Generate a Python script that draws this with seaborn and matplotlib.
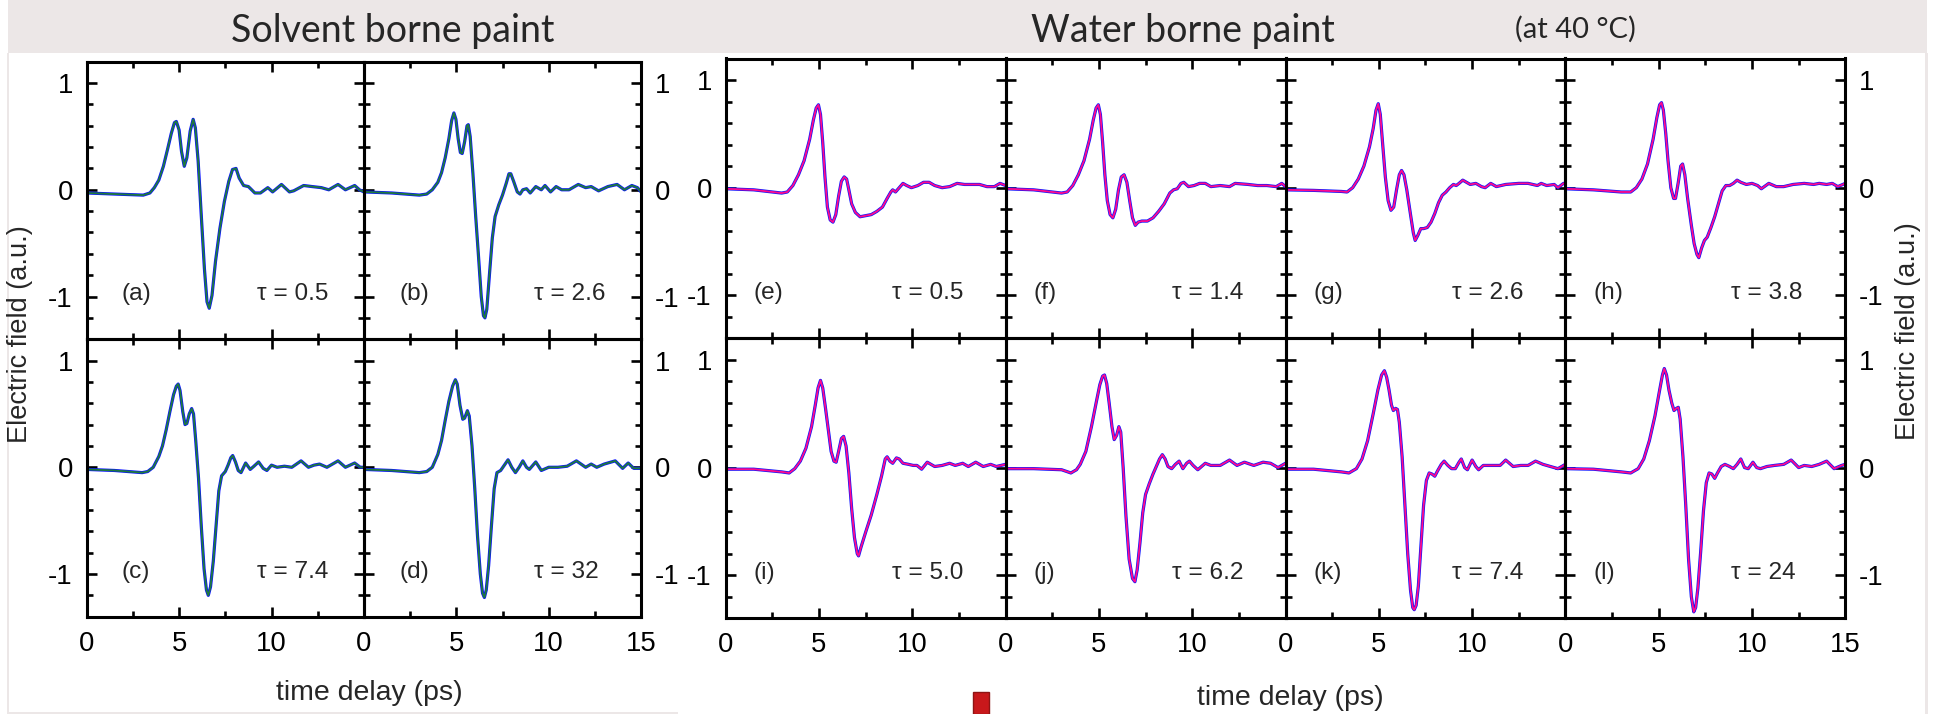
import numpy as np
import pandas as pd
import matplotlib
matplotlib.use("Agg")
import matplotlib.pyplot as plt
import seaborn as sns
from matplotlib.patches import Rectangle

# ---------------- data ----------------
t_a = [0, 1.5, 3.06, 3.42, 3.66, 3.9, 4.15, 4.39, 4.58, 4.75, 4.85, 5.0, 5.13, 5.28, 5.42, 5.6, 5.76, 5.88, 6.03, 6.2, 6.37, 6.51, 6.63, 6.78, 6.97, 7.21, 7.45, 7.69, 7.89, 8.08, 8.25, 8.49, 8.75, 9.1, 9.4, 9.8, 10.06, 10.54, 10.97, 11.2, 11.74, 12.2, 12.7, 13.1, 13.6, 14.0, 14.5, 14.76, 15.0]
e_a = [-0.03, -0.04, -0.05, -0.03, 0.02, 0.09, 0.22, 0.39, 0.53, 0.63, 0.64, 0.56, 0.36, 0.22, 0.30, 0.55, 0.66, 0.58, 0.27, -0.24, -0.74, -1.05, -1.11, -0.99, -0.67, -0.36, -0.11, 0.08, 0.19, 0.20, 0.11, 0.04, 0.03, -0.03, -0.03, 0.02, -0.02, 0.05, -0.02, -0.01, 0.04, 0.03, 0.02, 0.0, 0.05, 0.0, 0.04, 0.0, -0.02]

t_b = [0, 1.5, 3.0, 3.4, 3.7, 4.0, 4.2, 4.4, 4.6, 4.75, 4.87, 4.98, 5.1, 5.22, 5.32, 5.45, 5.58, 5.65, 5.75, 5.9, 6.05, 6.2, 6.35, 6.47, 6.55, 6.65, 6.8, 6.95, 7.1, 7.3, 7.5, 7.7, 7.85, 7.95, 8.1, 8.3, 8.45, 8.6, 8.8, 9.0, 9.3, 9.6, 9.8, 10.1, 10.4, 10.7, 11.1, 11.6, 12.0, 12.3, 12.7, 13.2, 13.7, 14.1, 14.5, 14.8, 15]
e_b = [-0.02, -0.03, -0.05, -0.04, 0.0, 0.07, 0.16, 0.30, 0.48, 0.65, 0.72, 0.66, 0.48, 0.35, 0.34, 0.45, 0.60, 0.61, 0.50, 0.15, -0.25, -0.62, -1.0, -1.18, -1.2, -1.12, -0.78, -0.45, -0.25, -0.14, -0.05, 0.06, 0.15, 0.15, 0.08, -0.02, -0.04, 0.0, 0.01, -0.03, 0.03, 0.0, 0.04, -0.02, 0.03, 0.0, 0.0, 0.05, 0.02, 0.03, -0.01, 0.03, 0.05, 0.0, 0.04, 0.02, -0.02]

t_c = [0, 1.5, 3.0, 3.3, 3.6, 3.9, 4.1, 4.3, 4.5, 4.7, 4.85, 4.95, 5.05, 5.2, 5.32, 5.42, 5.55, 5.68, 5.78, 5.9, 6.05, 6.2, 6.35, 6.48, 6.58, 6.7, 6.85, 7.0, 7.15, 7.3, 7.5, 7.65, 7.8, 7.9, 8.05, 8.2, 8.35, 8.6, 8.85, 9.05, 9.3, 9.55, 9.75, 10.0, 10.3, 10.7, 11.1, 11.6, 12.0, 12.3, 12.6, 13.0, 13.6, 14.0, 14.5, 14.8, 15]
e_c = [-0.02, -0.03, -0.05, -0.04, 0.0, 0.1, 0.2, 0.35, 0.52, 0.68, 0.76, 0.78, 0.72, 0.52, 0.40, 0.41, 0.50, 0.55, 0.50, 0.25, -0.1, -0.55, -0.95, -1.15, -1.2, -1.12, -0.88, -0.55, -0.22, -0.08, -0.04, 0.02, 0.09, 0.11, 0.05, -0.03, -0.05, 0.04, -0.02, 0.01, 0.05, -0.01, -0.03, 0.02, 0.0, 0.01, 0.0, 0.06, 0.0, 0.02, 0.03, 0.0, 0.06, 0.0, 0.04, 0.0, 0.0]

t_d = [0, 1.5, 3.0, 3.4, 3.7, 4.0, 4.2, 4.4, 4.6, 4.8, 4.95, 5.05, 5.2, 5.35, 5.45, 5.6, 5.7, 5.85, 6.0, 6.15, 6.3, 6.42, 6.52, 6.62, 6.75, 6.9, 7.05, 7.2, 7.4, 7.6, 7.8, 8.0, 8.2, 8.4, 8.6, 8.8, 8.95, 9.3, 9.6, 10.0, 10.5, 11.0, 11.5, 12.0, 12.3, 12.6, 13.0, 13.6, 14.0, 14.3, 14.6, 15]
e_d = [-0.02, -0.03, -0.05, -0.04, 0.0, 0.12, 0.25, 0.44, 0.62, 0.76, 0.82, 0.78, 0.58, 0.45, 0.46, 0.53, 0.48, 0.2, -0.2, -0.65, -1.0, -1.18, -1.22, -1.15, -0.92, -0.55, -0.2, -0.05, -0.03, 0.02, 0.07, 0.0, -0.05, 0.0, 0.06, 0.0, -0.02, 0.05, -0.03, 0.0, 0.0, 0.01, 0.06, 0.0, 0.03, 0.0, 0.03, 0.06, -0.01, 0.04, -0.01, -0.01]

t_e = [0, 1.5, 3.0, 3.3, 3.6, 3.9, 4.2, 4.5, 4.7, 4.85, 4.97, 5.08, 5.2, 5.32, 5.45, 5.6, 5.75, 5.9, 6.05, 6.2, 6.35, 6.48, 6.6, 6.75, 6.95, 7.2, 7.5, 7.8, 8.1, 8.4, 8.65, 8.85, 8.95, 9.1, 9.3, 9.5, 9.7, 9.95, 10.3, 10.6, 10.9, 11.2, 11.6, 12.0, 12.4, 12.8, 13.2, 13.6, 14.0, 14.4, 14.7, 15]
e_e = [-0.01, -0.02, -0.05, -0.04, 0.02, 0.12, 0.25, 0.45, 0.63, 0.74, 0.77, 0.68, 0.42, 0.1, -0.18, -0.3, -0.32, -0.25, -0.08, 0.06, 0.1, 0.08, -0.02, -0.15, -0.23, -0.27, -0.26, -0.25, -0.22, -0.18, -0.1, -0.04, -0.02, -0.04, 0.0, 0.04, 0.02, 0.0, 0.02, 0.05, 0.05, 0.02, 0.0, 0.01, 0.04, 0.03, 0.03, 0.03, 0.01, 0.01, 0.04, 0.02]

t_f = [0, 1.5, 3.0, 3.3, 3.6, 3.9, 4.2, 4.5, 4.7, 4.85, 4.97, 5.08, 5.2, 5.32, 5.45, 5.6, 5.75, 5.9, 6.05, 6.2, 6.35, 6.5, 6.65, 6.8, 6.95, 7.1, 7.3, 7.6, 7.9, 8.2, 8.5, 8.8, 9.0, 9.2, 9.4, 9.55, 9.8, 10.1, 10.4, 10.7, 11.0, 11.5, 12.0, 12.3, 13.0, 13.5, 14.0, 14.5, 14.8, 15]
e_f = [-0.01, -0.02, -0.05, -0.04, 0.02, 0.12, 0.25, 0.45, 0.63, 0.74, 0.77, 0.68, 0.42, 0.12, -0.12, -0.25, -0.28, -0.2, -0.02, 0.1, 0.12, 0.05, -0.12, -0.28, -0.35, -0.32, -0.31, -0.31, -0.28, -0.22, -0.15, -0.05, -0.02, -0.01, 0.04, 0.05, 0.01, 0.02, 0.04, 0.04, 0.01, 0.02, 0.01, 0.04, 0.03, 0.02, 0.02, 0.01, 0.04, 0.01]

t_g = [0, 1.5, 3.0, 3.3, 3.6, 3.9, 4.2, 4.5, 4.7, 4.85, 4.97, 5.08, 5.2, 5.35, 5.5, 5.65, 5.8, 5.95, 6.1, 6.22, 6.35, 6.5, 6.7, 6.85, 6.95, 7.1, 7.25, 7.4, 7.6, 7.8, 8.0, 8.2, 8.4, 8.6, 8.8, 9.0, 9.15, 9.3, 9.5, 9.7, 9.9, 10.2, 10.5, 10.7, 11.0, 11.3, 11.8, 12.5, 13.0, 13.5, 13.7, 14.0, 14.4, 14.6, 14.9, 15]
e_g = [-0.02, -0.025, -0.035, -0.04, 0.0, 0.08, 0.2, 0.38, 0.55, 0.72, 0.78, 0.68, 0.42, 0.1, -0.12, -0.21, -0.18, -0.02, 0.12, 0.16, 0.12, -0.02, -0.25, -0.42, -0.49, -0.44, -0.38, -0.38, -0.37, -0.32, -0.24, -0.14, -0.07, -0.04, 0.0, 0.03, 0.02, 0.04, 0.07, 0.05, 0.03, 0.04, 0.01, 0.0, 0.04, 0.01, 0.03, 0.04, 0.04, 0.02, 0.04, 0.02, 0.03, 0.0, 0.04, 0.04]

t_h = [0, 1.5, 3.0, 3.5, 3.8, 4.1, 4.4, 4.7, 4.9, 5.05, 5.15, 5.25, 5.38, 5.5, 5.65, 5.8, 5.9, 6.05, 6.18, 6.28, 6.4, 6.55, 6.75, 6.9, 7.05, 7.15, 7.3, 7.45, 7.6, 7.8, 8.0, 8.2, 8.4, 8.6, 8.8, 9.0, 9.2, 9.4, 9.7, 10.0, 10.3, 10.5, 10.9, 11.3, 11.7, 12.2, 12.8, 13.3, 13.6, 14.0, 14.3, 14.6, 15]
e_h = [-0.01, -0.02, -0.04, -0.04, 0.0, 0.08, 0.22, 0.45, 0.65, 0.77, 0.79, 0.72, 0.5, 0.25, 0.0, -0.1, -0.1, 0.05, 0.2, 0.22, 0.12, -0.1, -0.35, -0.52, -0.62, -0.65, -0.56, -0.49, -0.46, -0.37, -0.27, -0.15, -0.03, 0.02, 0.02, 0.04, 0.07, 0.05, 0.03, 0.04, 0.02, -0.01, 0.04, 0.01, 0.01, 0.03, 0.04, 0.03, 0.04, 0.03, 0.04, 0.01, 0.04]

t_i = [0, 1.5, 3.0, 3.4, 3.7, 4.0, 4.3, 4.6, 4.8, 4.95, 5.08, 5.2, 5.35, 5.5, 5.65, 5.8, 5.92, 6.05, 6.2, 6.32, 6.45, 6.6, 6.75, 6.9, 7.05, 7.12, 7.25, 7.5, 7.8, 8.1, 8.35, 8.55, 8.65, 8.8, 8.95, 9.15, 9.3, 9.5, 9.8, 10.05, 10.25, 10.5, 10.8, 11.2, 11.6, 12.0, 12.3, 12.7, 13.0, 13.4, 13.8, 14.2, 14.5, 15]
e_i = [-0.015, -0.015, -0.04, -0.05, -0.01, 0.06, 0.18, 0.38, 0.58, 0.74, 0.81, 0.74, 0.55, 0.35, 0.15, 0.06, 0.05, 0.15, 0.27, 0.29, 0.2, -0.05, -0.38, -0.65, -0.8, -0.82, -0.74, -0.6, -0.44, -0.25, -0.08, 0.08, 0.1, 0.06, 0.04, 0.09, 0.08, 0.04, 0.03, 0.02, 0.02, -0.015, 0.05, 0.01, 0.02, 0.04, 0.02, 0.04, 0.01, 0.05, 0.01, 0.03, 0.01, 0.03]

t_j = [0, 1.5, 3.0, 3.5, 3.8, 4.0, 4.3, 4.6, 4.85, 5.05, 5.2, 5.3, 5.42, 5.55, 5.7, 5.82, 5.95, 6.07, 6.17, 6.3, 6.45, 6.62, 6.8, 6.93, 7.05, 7.2, 7.35, 7.5, 7.7, 7.9, 8.1, 8.25, 8.4, 8.55, 8.7, 8.9, 9.1, 9.3, 9.5, 9.7, 9.85, 10.05, 10.3, 10.7, 11.0, 11.5, 12.0, 12.4, 12.8, 13.3, 13.8, 14.2, 14.6, 15]
e_j = [-0.01, -0.01, -0.02, -0.05, -0.02, 0.03, 0.15, 0.38, 0.6, 0.77, 0.85, 0.86, 0.78, 0.6, 0.38, 0.26, 0.3, 0.38, 0.33, 0.0, -0.45, -0.85, -1.03, -1.06, -0.95, -0.7, -0.42, -0.25, -0.15, -0.06, 0.02, 0.08, 0.12, 0.08, 0.01, -0.01, 0.03, 0.06, -0.01, 0.04, 0.06, 0.02, -0.02, 0.04, 0.02, 0.02, 0.07, 0.02, 0.05, 0.02, 0.05, 0.04, 0.0, 0.04]

t_k = [0, 1.5, 3.0, 3.4, 3.8, 4.1, 4.4, 4.7, 4.95, 5.15, 5.3, 5.42, 5.55, 5.68, 5.78, 5.9, 6.0, 6.1, 6.25, 6.4, 6.55, 6.7, 6.82, 6.9, 7.0, 7.12, 7.25, 7.4, 7.55, 7.7, 7.85, 8.0, 8.15, 8.35, 8.5, 8.7, 8.9, 9.1, 9.3, 9.42, 9.6, 9.75, 10.0, 10.2, 10.35, 10.6, 11.0, 11.5, 11.8, 12.2, 12.6, 13.0, 13.4, 13.8, 14.2, 14.6, 15]
e_k = [-0.015, -0.015, -0.04, -0.05, -0.01, 0.08, 0.25, 0.5, 0.72, 0.86, 0.90, 0.84, 0.72, 0.58, 0.53, 0.55, 0.54, 0.42, 0.1, -0.35, -0.8, -1.14, -1.3, -1.32, -1.28, -1.1, -0.75, -0.35, -0.12, -0.05, -0.06, -0.08, -0.03, 0.03, 0.06, 0.02, -0.01, -0.01, 0.05, 0.08, 0.0, -0.02, 0.07, 0.01, -0.02, 0.02, 0.02, 0.02, 0.07, 0.01, 0.02, 0.02, 0.06, 0.03, 0.01, -0.01, 0.03]

t_l = [0, 1.5, 3.0, 3.5, 3.9, 4.2, 4.5, 4.8, 5.05, 5.2, 5.3, 5.42, 5.55, 5.7, 5.82, 5.95, 6.05, 6.15, 6.3, 6.45, 6.6, 6.75, 6.88, 6.98, 7.1, 7.25, 7.4, 7.55, 7.7, 7.85, 8.0, 8.15, 8.35, 8.55, 8.8, 9.0, 9.2, 9.4, 9.6, 9.8, 10.05, 10.25, 10.45, 10.8, 11.2, 11.7, 12.1, 12.5, 12.8, 13.2, 13.6, 14.0, 14.4, 14.8, 15]
e_l = [-0.01, -0.015, -0.04, -0.05, -0.01, 0.08, 0.25, 0.48, 0.72, 0.86, 0.92, 0.86, 0.72, 0.6, 0.53, 0.55, 0.56, 0.45, 0.1, -0.35, -0.85, -1.2, -1.34, -1.3, -1.12, -0.78, -0.4, -0.14, -0.05, -0.06, -0.1, -0.05, 0.01, 0.03, 0.01, -0.01, 0.03, 0.08, 0.0, -0.01, 0.05, 0.0, -0.01, 0.01, 0.02, 0.03, 0.07, 0.0, 0.02, 0.01, 0.03, 0.06, -0.01, 0.02, 0.03]

panel_letters = ['(a)', '(b)', '(c)', '(d)', '(e)', '(f)', '(g)', '(h)', '(i)', '(j)', '(k)', '(l)']
tau_values = ['0.5', '2.6', '7.4', '32', '0.5', '1.4', '2.6', '3.8', '5.0', '6.2', '7.4', '24']
group_titles = ['Solvent borne paint', 'Water borne paint']
x_ticks = [0, 5, 10, 15]
y_ticks = [-1, 0, 1]

series = [(t_a, e_a), (t_b, e_b), (t_c, e_c), (t_d, e_d),
          (t_e, e_e), (t_f, e_f), (t_g, e_g), (t_h, e_h),
          (t_i, e_i), (t_j, e_j), (t_k, e_k), (t_l, e_l)]

# ---------------- figure ----------------
sns.set_theme(style="white")
plt.rcParams['font.family'] = ['Liberation Sans', 'DejaVu Sans']
plt.rcParams['axes.linewidth'] = 2.2
plt.rcParams['lines.solid_joinstyle'] = 'round'
plt.rcParams['lines.solid_capstyle'] = 'round'

W, H = 1937, 714
fig = plt.figure(figsize=(W / 100, H / 100), dpi=100)
fig.patch.set_facecolor('white')

GRAY = '#ece7e7'
fig.add_artist(Rectangle((8 / W, 1 - 52.7 / H), (1927 - 8) / W, 52.7 / H,
                         transform=fig.transFigure, facecolor=GRAY, edgecolor='none', zorder=0))
fig.add_artist(Rectangle((8 / W, 0), (678 - 8) / W, 2.5 / H,
                         transform=fig.transFigure, facecolor=GRAY, edgecolor='none', zorder=0))
fig.add_artist(Rectangle((7 / W, 0), 1.6 / W, 1 - 52.7 / H,
                         transform=fig.transFigure, facecolor=GRAY, edgecolor='none', zorder=0))
fig.add_artist(Rectangle((1925 / W, 0), 2.5 / W, 1 - 52.7 / H,
                         transform=fig.transFigure, facecolor=GRAY, edgecolor='none', zorder=0))
# small red marker at the bottom
fig.add_artist(Rectangle((973 / W, 0), 16.5 / W, 22 / H, transform=fig.transFigure,
                         facecolor='#c8181b', edgecolor='#8e1414', linewidth=1.0, zorder=5))

TICK_FS = 19.8
LAB_FS = 17.6


def make_panel(idx, x0, ytop, w, h, ncols, col, row, line2_color, letter_x, tau_x):
    ax = fig.add_axes([x0 / W, 1 - (ytop + h) / H, w / W, h / H])
    t, e = series[idx]
    df = pd.DataFrame({'t': t, 'E': e})
    sns.lineplot(data=df, x='t', y='E', ax=ax, color='#0a14ff', linewidth=2.3,
                 estimator=None, sort=False)
    sns.lineplot(data=df, x='t', y='E', ax=ax, color=line2_color, linewidth=1.3,
                 estimator=None, sort=False)
    ax.set_xlim(0, 15)
    ax.set_ylim(-1.4, 1.2)
    ax.set_xticks(x_ticks)
    ax.set_xticks([2.5, 7.5, 12.5], minor=True)
    ax.set_yticks(y_ticks)
    ax.set_yticks([-1.2, -0.8, -0.6, -0.4, -0.2, 0.2, 0.4, 0.6, 0.8], minor=True)
    ax.set_xlabel('')
    ax.set_ylabel('')
    ax.set_facecolor('none')
    for s in ax.spines.values():
        s.set_linewidth(2.2)
        s.set_color('black')
    ax.tick_params(which='both', direction='in', top=True, bottom=True, left=True, right=True,
                   width=1.9, color='black', labelsize=TICK_FS, labelcolor='black')
    ax.tick_params(which='major', length=7.5, pad=10)
    ax.tick_params(which='minor', length=4.5)
    ax.tick_params(axis='x', labelbottom=(row == 1), labeltop=False)
    ax.tick_params(axis='y', labelleft=(col == 0), labelright=(col == ncols - 1))
    ax.set_yticklabels(['-1', '0', '1'])
    if col == ncols - 1:
        ax.set_xticklabels(['0', '5', '10', '15'])
    else:
        ax.set_xticklabels(['0', '5', '10', ''])
    ax.text(letter_x, -0.98, panel_letters[idx], ha='left', va='center', fontsize=LAB_FS)
    ax.text(tau_x, -0.98, '\u03c4 = ' + tau_values[idx], ha='left', va='center', fontsize=LAB_FS)
    return ax


# left group (2x2)
Lx0, Lw = 86.7, 277.2
Ly0, Lh = 61.7, 277.5
k = 0
for r in range(2):
    for c in range(2):
        make_panel(k, Lx0 + c * Lw, Ly0 + r * Lh, Lw, Lh, 2, c, r, '#1f7a3c', 1.9, 9.2)
        k += 1

# right group (2x4)
Rx0, Rw = 725.7, 279.9
Ry0, Rh = 58.5, 279.9
for r in range(2):
    for c in range(4):
        make_panel(k, Rx0 + c * Rw, Ry0 + r * Rh, Rw, Rh, 4, c, r, '#ff0a8c', 1.5, 8.9)
        k += 1

# titles and axis labels
title_font = ['Lato', 'DejaVu Sans']
fig.text(393 / W, 1 - 42 / H, group_titles[0], ha='center', va='baseline',
         fontsize=27, family=title_font)
fig.text(1183 / W, 1 - 42 / H, group_titles[1], ha='center', va='baseline',
         fontsize=27, family=title_font)
fig.text(1575 / W, 1 - 38 / H, '(at 40 \u00b0C)', ha='center', va='baseline',
         fontsize=21, family=title_font)

fig.text(369 / W, 1 - 693 / H, 'time delay (ps)', ha='center', va='center', fontsize=20.5)
fig.text(1290 / W, 1 - 698 / H, 'time delay (ps)', ha='center', va='center', fontsize=20.5)
fig.text(20 / W, 1 - 334 / H, 'Electric field (a.u.)', ha='center', va='center',
         rotation=90, fontsize=19.5)
fig.text(1908 / W, 1 - 331 / H, 'Electric field (a.u.)', ha='center', va='center',
         rotation=90, fontsize=19.5)

fig.savefig('out.png', dpi=100, facecolor=fig.get_facecolor())
